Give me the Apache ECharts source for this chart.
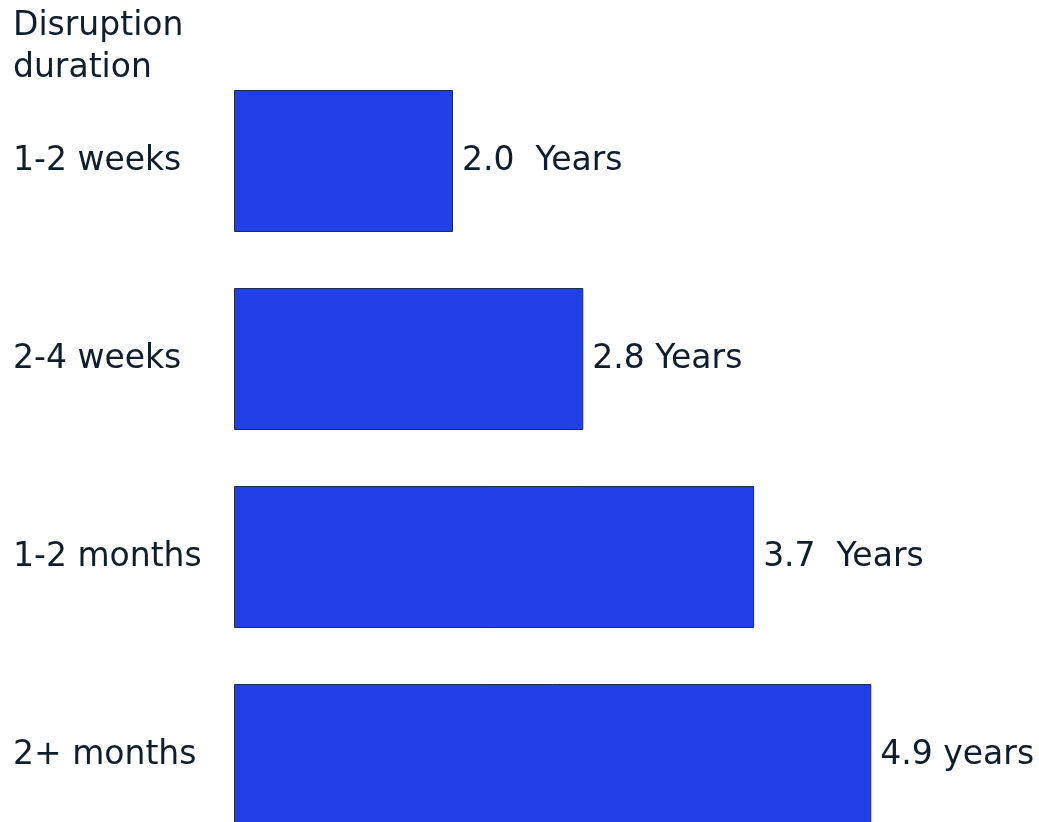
<!DOCTYPE html>
<html>
<head>
<meta charset="utf-8">
<script src="https://cdn.jsdelivr.net/npm/echarts@6/dist/echarts.min.js"></script>
<style>
html,body{margin:0;padding:0;background:#ffffff;overflow:hidden;}
#chart{width:1039px;height:822px;}
</style>
</head>
<body>
<div id="chart"></div>
<script>
// Categories (top to bottom)
const categories = ['1-2 weeks', '2-4 weeks', '1-2 months', '2+ months'];
// Values as labelled in the chart (years)
const values = [2.0, 2.8, 3.7, 4.9];
// Bar lengths as drawn in the reference (same years scale, 2.0 bar as reference)
const drawnLengths = [2.0, 3.19, 4.75, 5.82];
// Value label texts as written in the reference
const valueLabels = ['2.0  Years', '2.8 Years', '3.7  Years', '4.9 years'];
const axisTitle = 'Disruption\nduration';

const textColor = '#0f1e2d';
const font = 'DejaVu Sans, sans-serif';

const chart = echarts.init(document.getElementById('chart'), null, {renderer: 'canvas'});
chart.setOption({
  animation: false,
  backgroundColor: '#ffffff',
  title: {
    text: axisTitle,
    left: 13,
    top: 5,
    padding: 0,
    textStyle: {
      color: textColor, fontFamily: font, fontSize: 33, fontWeight: 'normal', lineHeight: 42
    }
  },
  grid: { left: 234, width: 657, top: 62, height: 792, outerBoundsMode: 'none', containLabel: false },
  xAxis: {
    type: 'value', min: 0, max: 6, show: false
  },
  yAxis: {
    type: 'category',
    data: categories,
    inverse: true,
    axisLine: { show: false },
    axisTick: { show: false },
    splitLine: { show: false },
    axisLabel: {
      align: 'left',
      margin: 221,
      padding: [6, 0, 0, 0],
      color: textColor,
      fontFamily: font,
      fontSize: 33
    }
  },
  series: [{
    type: 'bar',
    data: drawnLengths.map((v, i) => ({ value: v, years: values[i] })),
    barCategoryGap: '28.3%',
    itemStyle: { color: '#2140e8', borderColor: '#1b2b4b', borderWidth: 1 },
    label: {
      show: true,
      position: 'right',
      distance: 9,
      padding: [6, 0, 0, 0],
      color: textColor,
      fontFamily: font,
      fontSize: 33,
      formatter: p => valueLabels[p.dataIndex]
    }
  }]
});
</script>
</body>
</html>
